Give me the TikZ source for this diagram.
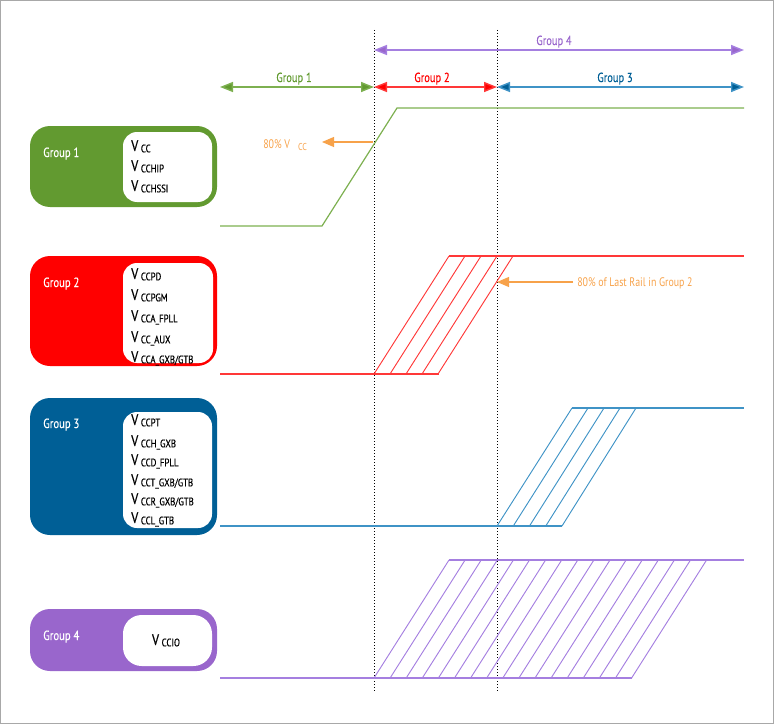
\documentclass[tikz,border=0pt]{standalone}
\usepackage{fontspec}
\setmainfont{PT Sans}[FakeStretch=0.8]
\newfontfamily\railfont{PT Sans}[FakeStretch=0.8, FakeBold=0.6]
\newfontfamily\grpfont{PT Sans}[FakeStretch=0.8, FakeBold=0.3]
\usetikzlibrary{arrows.meta}
\definecolor{ggreen}{HTML}{629A30}
\definecolor{glight}{HTML}{7DB050}
\definecolor{rred}{HTML}{FF0000}
\definecolor{rlight}{HTML}{FF3838}
\definecolor{bblue}{HTML}{005F96}
\definecolor{blight}{HTML}{3F93C6}
\definecolor{ppurple}{HTML}{9966CC}
\definecolor{plight}{HTML}{A57FE0}
\definecolor{oorange}{HTML}{F7A24A}
\definecolor{frame}{HTML}{A8A8A8}
\newcommand{\railname}[1]{V\kern2pt{\fontsize{8.2}{9}\selectfont\raisebox{-1pt}{#1}}}
\begin{document}
\begin{tikzpicture}[x=0.75pt,y=-0.75pt,
  groupbox/.style={rounded corners=15pt, minimum width=140.25pt, inner sep=0, draw=none},
  whitebox/.style={rounded corners=10.5pt, minimum width=66.75pt, inner sep=0, fill=white, draw=none},
  grplabel/.style={font=\grpfont\fontsize{10}{12}\selectfont, text=white, anchor=base west, inner sep=0},
  railtext/.style={font=\railfont\fontsize{11.5}{13}\selectfont, anchor=base west, inner sep=0, text=black},
  toplabel/.style={font=\grpfont\fontsize{9.8}{11}\selectfont, anchor=base, inner sep=0},
  notelabel/.style={font=\fontsize{9.3}{11}\selectfont, text=oorange, anchor=base west, inner sep=0},
  span/.style={line width=1.1pt},
  level/.style={line width=0.9pt},
  ramp/.style={line width=0.7pt},
  guide/.style={black, line width=0.75pt, dash pattern=on 0.75pt off 1.5pt},
  note/.style={oorange, line width=0.8pt, -{Triangle[length=9pt,width=7.5pt]}}]
\path[use as bounding box] (0,0) rectangle (774,724);
\draw[frame, line width=1.1pt] (0.75,0.75) rectangle (773.25,723.25);

% guide lines
\coordinate (ga) at (374,30); \coordinate (gb) at (374,693);
\coordinate (gc) at (497,30); \coordinate (gd) at (497,693);
\draw[guide] (ga) -- (gb);
\draw[guide] (gc) -- (gd);

% top spans
\coordinate (s1a) at (220,87); \coordinate (s1b) at (374,87);
\coordinate (s2a) at (374,87); \coordinate (s2b) at (497,87);
\coordinate (s3a) at (497,87); \coordinate (s3b) at (744,87);
\coordinate (s4a) at (374,50); \coordinate (s4b) at (744,50);
\draw[span, glight, {Triangle[length=9.75pt,width=7.5pt,fill=ggreen]}-{Triangle[length=9.75pt,width=7.5pt,fill=ggreen]}] (s1a) -- (s1b);
\draw[span, rlight, {Triangle[length=9.75pt,width=7.5pt,fill=rred]}-{Triangle[length=9.75pt,width=7.5pt,fill=rred]}] (s2a) -- (s2b);
\draw[span, blight, {Triangle[length=9.75pt,width=7.5pt,fill=bblue]}-{Triangle[length=9.75pt,width=7.5pt,fill=bblue]}] (s3a) -- (s3b);
\draw[span, plight, {Triangle[length=9.75pt,width=7.5pt,fill=ppurple]}-{Triangle[length=9.75pt,width=7.5pt,fill=ppurple]}] (s4a) -- (s4b);
\node[toplabel, text=ggreen] (t1) at (294,82) {Group 1};
\node[toplabel, text=rred] (t2) at (432,82) {Group 2};
\node[toplabel, text=bblue] (t3) at (615,82) {Group 3};
\node[toplabel, text=ppurple] (t4) at (554,45) {Group 4};

% group boxes
\node[groupbox, fill=ggreen, minimum height=60.75pt] (b1) at (123.5,166.5) {};
\node[whitebox, minimum height=52.5pt] (w1) at (167.5,167) {};
\node[grplabel] (l1) at (43,157) {Group 1};
\node[railtext] (r11) at (131,151) {\railname{CC}};
\node[railtext] (r12) at (131,171) {\railname{CCHIP}};
\node[railtext] (r13) at (131,191) {\railname{CCHSSI}};

\node[groupbox, fill=rred, minimum height=82.5pt] (b2) at (123.5,311) {};
\node[whitebox, minimum height=75pt, minimum width=67.5pt] (w2) at (168,313) {};
\node[grplabel] (l2) at (43,287) {Group 2};
\node[railtext] (r21) at (131,279) {\railname{CCPD}};
\node[railtext] (r22) at (131,300) {\railname{CCPGM}};
\node[railtext] (r23) at (131,321) {\railname{CCA\_FPLL}};
\node[railtext] (r24) at (131,342) {\railname{CC\_AUX}};
\node[railtext] (r25) at (131,362) {\railname{CCA\_GXB/GTB}};

\node[groupbox, fill=bblue, minimum height=102.75pt] (b3) at (123.5,466.5) {};
\node[whitebox, minimum height=87pt] (w3) at (167.5,470) {};
\node[grplabel] (l3) at (43,428) {Group 3};
\node[railtext] (r31) at (131,425) {\railname{CCPT}};
\node[railtext] (r32) at (131,446) {\railname{CCH\_GXB}};
\node[railtext] (r33) at (131,465) {\railname{CCD\_FPLL}};
\node[railtext] (r34) at (131,485) {\railname{CCT\_GXB/GTB}};
\node[railtext] (r35) at (131,504) {\railname{CCR\_GXB/GTB}};
\node[railtext] (r36) at (131,523) {\railname{CCL\_GTB}};

\node[groupbox, fill=ppurple, minimum height=46.5pt] (b4) at (123.5,640) {};
\node[whitebox, minimum height=38.25pt, rounded corners=14pt] (w4) at (167.5,640.5) {};
\node[grplabel] (l4) at (43,640) {Group 4};
\node[railtext, anchor=base] (r41) at (166,645) {\railname{CCIO}};

% waveforms
\draw[level, glight] (220,226) -- (322,226) -- (397,108) -- (744,108);

\draw[level, rlight] (220,374) -- (439,374);
\draw[level, rlight] (449,256) -- (744,256);
\foreach \i in {0,...,4} \draw[ramp, rlight] (374+16*\i,374) -- (449+16*\i,256);

\draw[level, blight] (220,526) -- (562,526);
\draw[level, blight] (572,408) -- (744,408);
\foreach \i in {0,...,4} \draw[ramp, blight] (497+16.25*\i,526) -- (572+16*\i,408);

\draw[level, plight] (220,678) -- (632,678);
\draw[level, plight] (449,560) -- (744,560);
\foreach \i in {0,...,16} \draw[ramp, plight] (374+16.1*\i,678) -- (449+16.1*\i,560);

% notes
\node[notelabel] (n1) at (263,148) {80\% V\kern6pt{\fontsize{7.5}{8}\selectfont\raisebox{-1.5pt}{CC}}};
\coordinate (n1s) at (373,142); \coordinate (n1e) at (322,142);
\draw[note] (n1s) -- (n1e);
\node[notelabel] (n2) at (577,286) {80\% of Last Rail in Group 2};
\coordinate (n2s) at (573,282); \coordinate (n2e) at (497,282);
\draw[note] (n2s) -- (n2e);
\end{tikzpicture}
\end{document}
